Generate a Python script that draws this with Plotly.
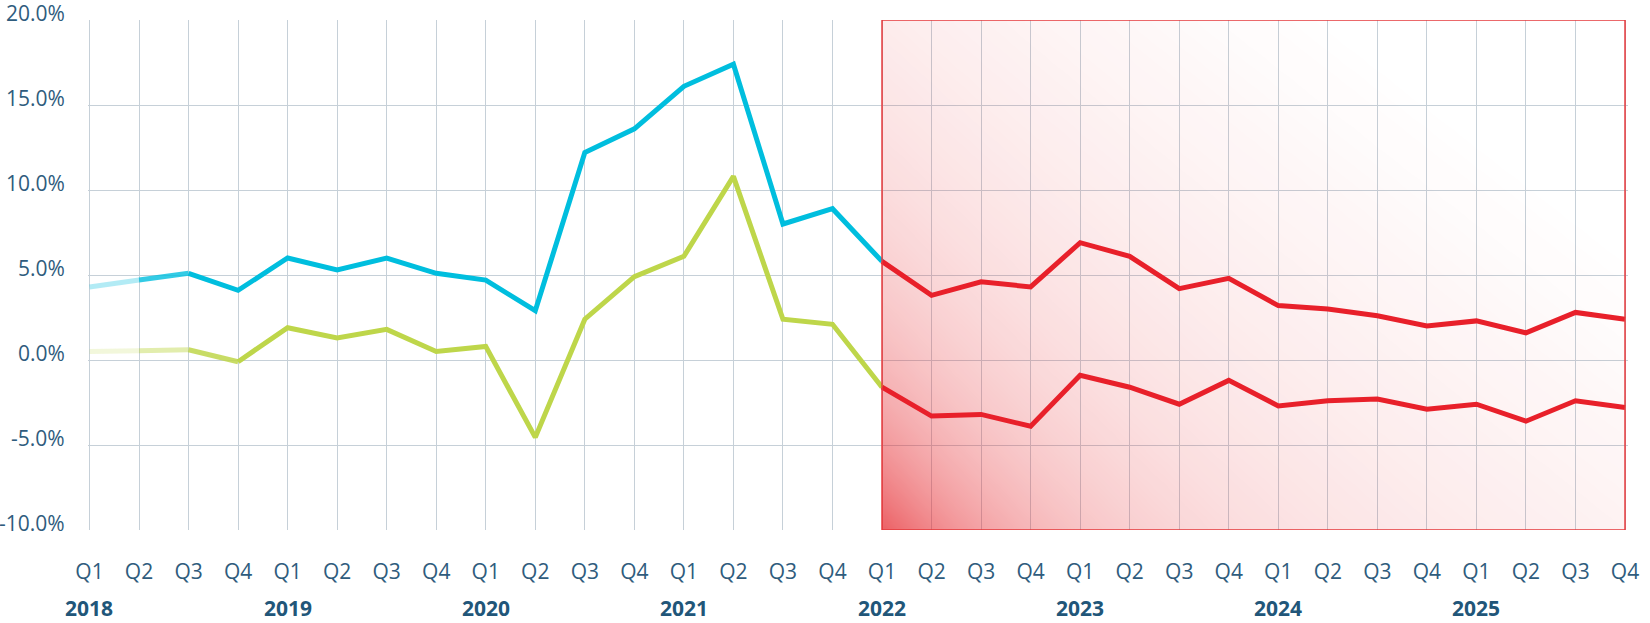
import numpy as np
import plotly.graph_objects as go

# ---------------- data ----------------
quarter_labels = ["Q1", "Q2", "Q3", "Q4"] * 8
year_labels = ["2018", "2019", "2020", "2021", "2022", "2023", "2024", "2025"]
y_tick_values = [-10, -5, 0, 5, 10, 15, 20]
y_tick_labels = ["-10.0%", "-5.0%", "0.0%", "5.0%", "10.0%", "15.0%", "20.0%"]

# historical (2018 Q1 .. 2022 Q1)
hist_upper = [4.3, 4.7, 5.1, 4.1, 6.0, 5.3, 6.0, 5.1, 4.7, 2.9, 12.2, 13.6, 16.1, 17.4, 8.0, 8.9, 5.8]
hist_lower = [0.5, 0.55, 0.6, -0.1, 1.9, 1.3, 1.8, 0.5, 0.8, -4.55, 2.4, 4.9, 6.1, 10.8, 2.4, 2.1, -1.6]
# forecast (2022 Q1 .. 2025 Q4)
fc_upper = [5.8, 3.8, 4.6, 4.3, 6.9, 6.1, 4.2, 4.8, 3.2, 3.0, 2.6, 2.0, 2.3, 1.6, 2.8, 2.4]
fc_lower = [-1.6, -3.3, -3.2, -3.9, -0.9, -1.6, -2.6, -1.2, -2.7, -2.4, -2.3, -2.9, -2.6, -3.6, -2.4, -2.8]

forecast_start = 16  # index of 2022 Q1

# ---------------- styles ----------------
CYAN = (0, 190, 222)
GREEN = (190, 214, 74)
RED = "#E8202A"
TEXT = "#2F5C7D"
YEAR = "#215679"
GRID = "#C6D0D8"
FONT = "Open Sans"

n = len(quarter_labels)
x_all = list(range(n))
x_hist = x_all[:forecast_start + 1]
x_fc = x_all[forecast_start:]

fig = go.Figure()

# gradient background of the forecast box (decorative)
W_PX, H_PX = 745.0, 510.0
nx, ny = 120, 80
xe = np.linspace(forecast_start, n - 1, nx + 1)
ye = np.linspace(-10, 20, ny + 1)
xc = (xe[:-1] + xe[1:]) / 2
yc = (ye[:-1] + ye[1:]) / 2
dx = (xc - forecast_start) / (n - 1 - forecast_start) * W_PX
dy = (yc + 10) / 30 * H_PX
DX, DY = np.meshgrid(dx, dy)
u2 = DX / 1100 + DY / 850
alpha = 0.55 * np.exp(-(DX / 135 + DY / 150)) + 0.17 * np.clip(1 - u2, 0, 1)
fig.add_trace(go.Heatmap(
    x=xe, y=ye, z=alpha, zmin=0, zmax=1, zsmooth="best",
    colorscale=[[0, "rgba(228,32,38,0)"], [1, "rgba(228,32,38,1)"]],
    showscale=False, hoverinfo="skip",
))


def rgba(c, a):
    return f"rgba({c[0]},{c[1]},{c[2]},{a})"


def faded_line(values, color, fades):
    # fades: opacities of the first segments, then full colour
    k = len(fades)
    for i, a in enumerate(fades):
        fig.add_trace(go.Scatter(
            x=x_hist[i:i + 2], y=values[i:i + 2], mode="lines",
            line=dict(color=rgba(color, a), width=5), hoverinfo="skip",
            showlegend=False,
        ))
    fig.add_trace(go.Scatter(
        x=x_hist[k:], y=values[k:], mode="lines",
        line=dict(color=rgba(color, 1), width=5), showlegend=False,
    ))


faded_line(hist_upper, CYAN, [0.3, 0.8])
faded_line(hist_lower, GREEN, [0.2, 0.45, 0.85])

for vals in (fc_upper, fc_lower):
    fig.add_trace(go.Scatter(
        x=x_fc, y=vals, mode="lines",
        line=dict(color=RED, width=5), showlegend=False,
    ))

# forecast box border
fig.add_shape(type="rect", xref="x", yref="y",
              x0=forecast_start, x1=n - 1, y0=-10, y1=20,
              line=dict(color="#E5383B", width=1.5), layer="above")

# y-axis labels (slightly above their gridlines, as in the original)
for v, lab in zip(y_tick_values, y_tick_labels):
    fig.add_annotation(x=0, y=v, xref="paper", yref="y", text=lab,
                       showarrow=False, xanchor="right", yanchor="middle",
                       xshift=-21, yshift=7,
                       font=dict(family=FONT, size=21, color=TEXT))

# year labels
for j, yr in enumerate(year_labels):
    fig.add_annotation(x=j * 4, y=0, xref="x", yref="paper", text=f"<b>{yr}</b>",
                       showarrow=False, yanchor="middle", yshift=-78,
                       font=dict(family=FONT, size=21, color=YEAR))

fig.update_layout(
    width=1650, height=623,
    margin=dict(l=88, r=22, t=20, b=93),
    paper_bgcolor="white", plot_bgcolor="white",
    showlegend=False,
    font=dict(family=FONT, size=21, color=TEXT),
)
fig.update_xaxes(
    range=[-0.03, n - 1 + 0.06], automargin=False,
    tickmode="array", tickvals=x_all, ticktext=quarter_labels,
    showgrid=True, gridcolor=GRID, gridwidth=1.3,
    zeroline=False, showline=False, ticks="",
    ticklabelstandoff=27,
    tickfont=dict(family=FONT, size=21, color=TEXT),
)
fig.update_yaxes(
    range=[-10, 20], automargin=False,
    tickmode="array", tickvals=y_tick_values, showticklabels=False,
    showgrid=True, gridcolor=GRID, gridwidth=1.3,
    zeroline=False, showline=False, ticks="",
)

# remove the default 8px page margin so the figure fills the window exactly
fig.write_html("out.html",
               config={"displayModeBar": False},
               post_script="document.body.style.margin='0';document.body.style.overflow='hidden';")
